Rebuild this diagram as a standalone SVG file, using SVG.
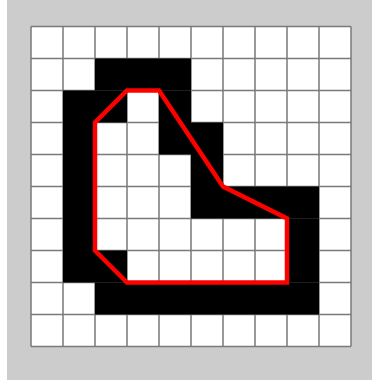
<svg xmlns="http://www.w3.org/2000/svg" width="372" height="383" viewBox="0 0 372 383">
<style>
.b{fill:#000}
.g{stroke:#7a7a7a;stroke-width:1.5;fill:none}
</style>
<rect x="0" y="0" width="372" height="383" fill="#fff"/>
<rect x="7" y="0" width="365" height="380" fill="#cccccc"/>
<rect x="31" y="26.5" width="320" height="320" fill="#fff"/>
<g id="grid" class="g">
<path d="M31 26.5V346.5M63 26.5V346.5M95 26.5V346.5M127 26.5V346.5M159 26.5V346.5M191 26.5V346.5M223 26.5V346.5M255 26.5V346.5M287 26.5V346.5M319 26.5V346.5M351 26.5V346.5"/>
<path d="M31 26.5H351M31 58.5H351M31 90.5H351M31 122.5H351M31 154.5H351M31 186.5H351M31 218.5H351M31 250.5H351M31 282.5H351M31 314.5H351M31 346.5H351"/>
</g>
<g id="black-cells">
<rect class="b" x="95" y="58.5" width="96" height="32"/>
<rect class="b" x="63" y="90.5" width="32" height="192"/>
<rect class="b" x="95" y="90.5" width="32" height="32"/>
<rect class="b" x="159" y="90.5" width="32" height="64"/>
<rect class="b" x="191" y="122.5" width="32" height="96"/>
<rect class="b" x="223" y="186.5" width="96" height="32"/>
<rect class="b" x="287" y="218.5" width="32" height="64"/>
<rect class="b" x="95" y="250.5" width="32" height="32"/>
<rect class="b" x="95" y="282.5" width="224" height="32"/>
</g>
<g id="contour">
<polygon points="127,90.5 159,90.5 223,186.5 287,218.5 287,282.5 127,282.5 95,250.5 95,122.5" fill="none" stroke="#ff0000" stroke-width="4.5" stroke-linejoin="miter"/>
</g>
</svg>
